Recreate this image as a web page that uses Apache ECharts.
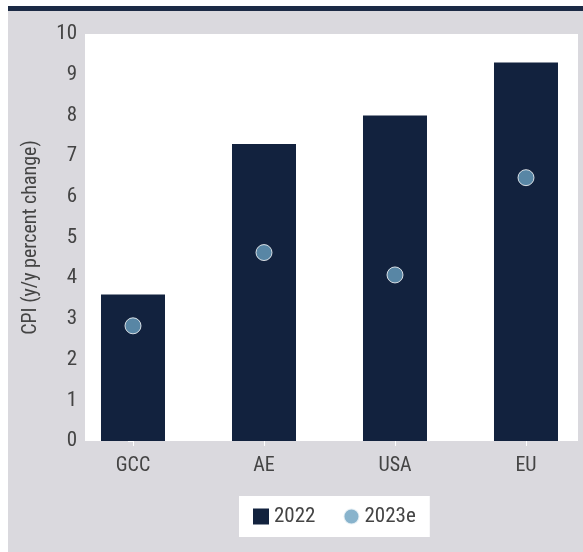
<!DOCTYPE html>
<html>
<head>
<meta charset="utf-8">
<script src="https://cdn.jsdelivr.net/npm/echarts@6/dist/echarts.min.js"></script>
<style>
html,body{margin:0;padding:0;background:#fff;}
#main{width:583px;height:552px;}
</style>
</head>
<body>
<div id="main"></div>
<script>
var categories = ['GCC', 'AE', 'USA', 'EU'];
var cpi2022 = [3.6, 7.3, 8.0, 9.3];
var cpi2023e = [2.83, 4.63, 4.08, 6.47];
var yTicks = [0, 1, 2, 3, 4, 5, 6, 7, 8, 9, 10];

var font = "'Liberation Sans Narrow', 'Roboto Condensed', Roboto, sans-serif";
var textColor = '#444';

var myChart = echarts.init(document.getElementById('main'));

var barData = [], dotData = [];
for (var i = 0; i < categories.length; i++) {
    barData.push([i, cpi2022[i]]);
    dotData.push([i, cpi2023e[i]]);
}

var option = {
    animation: false,
    backgroundColor: '#fff',
    graphic: [
        // grey panel + dark rule on top
        { type: 'rect', left: 8, top: 11, shape: { width: 575, height: 541 }, style: { fill: '#dad9de' }, z: -10 },
        { type: 'rect', left: 8, top: 6, shape: { width: 575, height: 5 }, style: { fill: '#1b2a45' }, z: -10 }
    ],
    grid: {
        left: 85, top: 34, width: 493, height: 407,
        show: true, backgroundColor: '#fff', borderWidth: 0
    },
    legend: {
        left: 239, top: 496,
        backgroundColor: '#fff',
        padding: [10, 14],
        itemWidth: 16, itemHeight: 16,
        itemGap: 27,
        textStyle: { fontFamily: font, fontSize: 21, color: textColor },
        data: [
            { name: '2022', icon: 'rect' },
            { name: '2023e', icon: 'circle' }
        ]
    },
    xAxis: {
        type: 'value',
        min: -0.3664,
        max: 3.397,
        splitLine: { show: false },
        axisLine: { show: false },
        axisTick: { show: true, length: 5, lineStyle: { color: '#fff' }, customValues: [0, 1, 2, 3] },
        axisLabel: {
            customValues: [0, 1, 2, 3],
            formatter: function (v) { return categories[Math.round(v)]; },
            fontFamily: font, fontSize: 20, color: textColor, margin: 15
        }
    },
    yAxis: {
        type: 'value',
        min: 0, max: 10, interval: 1,
        name: 'CPI (y/y percent change)',
        nameLocation: 'middle',
        nameGap: 44,
        nameTextStyle: { fontFamily: font, fontSize: 20, color: textColor },
        splitLine: { show: false },
        axisLine: { show: false },
        axisTick: { show: true, length: 5, lineStyle: { color: '#fff' } },
        axisLabel: {
            fontFamily: font, fontSize: 21, color: textColor, margin: 8,
            formatter: function (v) { return yTicks.indexOf(v) >= 0 ? String(v) : ''; }
        }
    },
    series: [
        {
            name: '2022',
            type: 'bar',
            barWidth: 64,
            itemStyle: { color: '#12223e' },
            data: barData
        },
        {
            name: '2023e',
            type: 'scatter',
            symbolSize: 16,
            itemStyle: { color: '#6aa0bf', borderColor: '#fff', borderWidth: 1 },
            data: dotData,
            z: 3
        }
    ]
};
myChart.setOption(option);
</script>
</body>
</html>
